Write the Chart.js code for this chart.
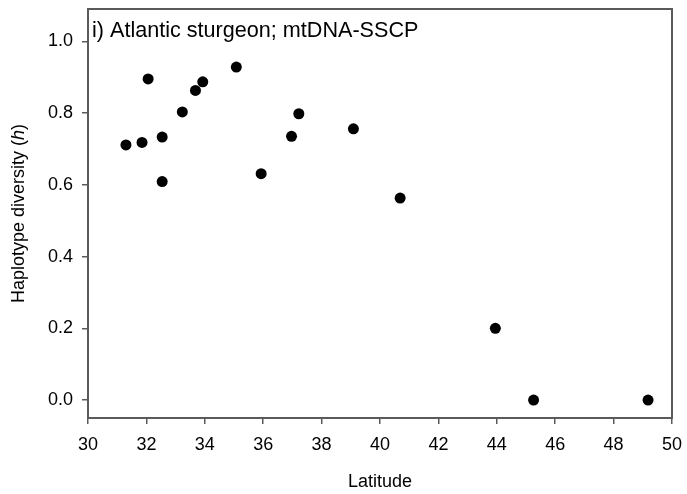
<!DOCTYPE html>
<html>
<head>
<meta charset="utf-8">
<script src="https://cdn.jsdelivr.net/npm/chart.js@4.4.1/dist/chart.umd.min.js"></script>
<style>
  html, body { margin: 0; padding: 0; background: #fff; }
  #wrap { width: 687px; height: 494px; }
</style>
</head>
<body>
<div id="wrap"><canvas id="chart" width="687" height="494"></canvas></div>
<script>
// Sampling sites: latitude vs haplotype diversity
const latitude = [31.30, 31.85, 32.06, 32.54, 32.54, 33.23, 33.68, 33.93, 35.08, 35.93, 36.97, 37.22, 39.09, 40.69, 43.95, 45.26, 49.18];
const diversity = [0.711, 0.718, 0.895, 0.733, 0.609, 0.803, 0.863, 0.887, 0.928, 0.631, 0.735, 0.798, 0.756, 0.563, 0.200, 0.000, 0.000];

const xTicks = [30, 32, 34, 36, 38, 40, 42, 44, 46, 48, 50];
const yTicks = [0.0, 0.2, 0.4, 0.6, 0.8, 1.0];

const panelTitle = 'i) Atlantic sturgeon; mtDNA-SSCP';
const xTitle = 'Latitude';

const FONT = 'Arial, "Liberation Sans", sans-serif';
const AXIS_COLOR = '#5a5a5a';

// Frame, panel title and axis titles (y title has an italic "h")
const decorations = {
  id: 'decorations',
  afterDraw(chart) {
    const { ctx, chartArea: a } = chart;
    ctx.save();
    ctx.strokeStyle = AXIS_COLOR;
    ctx.lineWidth = 2;
    ctx.strokeRect(a.left, a.top, a.right - a.left, a.bottom - a.top);

    ctx.fillStyle = '#000';
    ctx.font = '21.6px ' + FONT;
    ctx.textAlign = 'left';
    ctx.textBaseline = 'alphabetic';
    ctx.fillText(panelTitle, a.left + 4, 37);

    ctx.font = '18px ' + FONT;
    ctx.textAlign = 'center';
    ctx.textBaseline = 'middle';
    ctx.fillText(xTitle, (a.left + a.right) / 2, 482);

    // rotated y title built from parts
    const parts = [
      { t: 'Haplotype diversity (', f: '18px ' + FONT },
      { t: 'h', f: 'italic 18px ' + FONT },
      { t: ')', f: '18px ' + FONT }
    ];
    let total = 0;
    parts.forEach(p => { ctx.font = p.f; p.w = ctx.measureText(p.t).width; total += p.w; });
    ctx.translate(19, (a.top + a.bottom) / 2);
    ctx.rotate(-Math.PI / 2);
    ctx.textAlign = 'left';
    let x = -total / 2;
    parts.forEach(p => { ctx.font = p.f; ctx.fillText(p.t, x, 0); x += p.w; });
    ctx.restore();
  }
};

new Chart(document.getElementById('chart'), {
  type: 'scatter',
  data: {
    datasets: [{
      data: latitude.map((v, i) => ({ x: v, y: diversity[i] })),
      backgroundColor: '#000',
      borderColor: '#000',
      borderWidth: 0,
      pointRadius: 5.5,
      pointHoverRadius: 5.5,
      clip: false
    }]
  },
  options: {
    responsive: false,
    animation: false,
    devicePixelRatio: 1,
    layout: { padding: { top: 9, right: 15, left: 0, bottom: 0 } },
    plugins: { legend: { display: false }, tooltip: { enabled: false } },
    scales: {
      x: {
        type: 'linear',
        min: 30,
        max: 50,
        afterBuildTicks: s => { s.ticks = xTicks.map(v => ({ value: v })); },
        afterFit: s => { s.height = 76; s.paddingRight = 0; },
        border: { display: false },
        grid: { drawOnChartArea: false, drawTicks: true, tickLength: 6, color: AXIS_COLOR, lineWidth: 1.5 },
        ticks: { color: '#000', font: { family: FONT, size: 18 }, padding: 10, maxRotation: 0, autoSkip: false, callback: v => String(v) }
      },
      y: {
        type: 'linear',
        min: -0.05,
        max: 1.09,
        afterBuildTicks: s => { s.ticks = yTicks.map(v => ({ value: v })); },
        afterFit: s => { s.width = 88; s.paddingTop = 0; s.paddingBottom = 0; },
        border: { display: false },
        grid: { drawOnChartArea: false, drawTicks: true, tickLength: 6, color: AXIS_COLOR, lineWidth: 1.5 },
        ticks: { color: '#000', font: { family: FONT, size: 18 }, padding: 9, autoSkip: false, callback: v => v.toFixed(1) }
      }
    }
  },
  plugins: [decorations]
});
</script>
</body>
</html>
